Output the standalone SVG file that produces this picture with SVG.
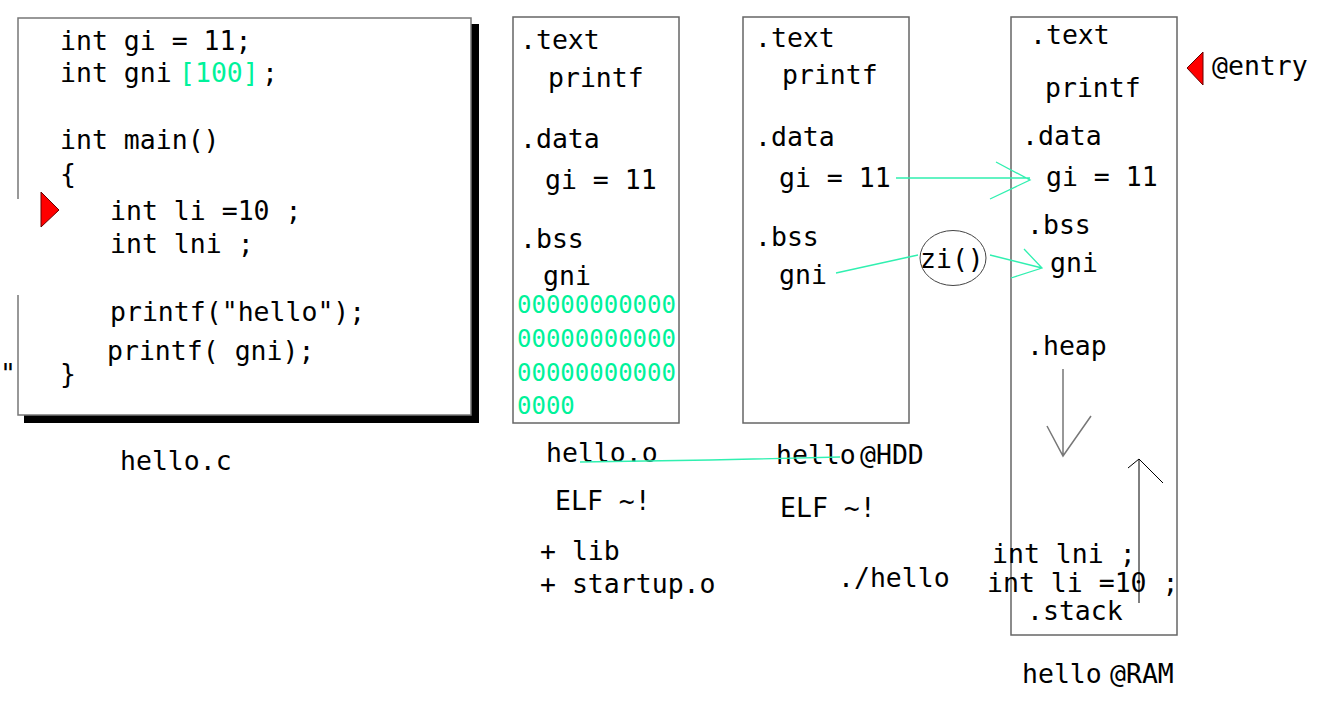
<svg xmlns="http://www.w3.org/2000/svg" width="1325" height="708" viewBox="0 0 1325 708">
<style>
text{font-family:"DejaVu Sans Mono","Liberation Mono",monospace;font-size:26.5px;fill:#000}
.g{fill:#00f29a}
.z{font-size:24px;fill:#00f29a}
.box{fill:#fff;stroke:#666;stroke-width:1.5}
.cg{stroke:#30f0b0;stroke-width:1.3;fill:none}
.tri{fill:#f00;stroke:#600;stroke-width:1}
</style>
<rect width="1325" height="708" fill="#fff"/>
<g id="source">
<rect x="24" y="24" width="455" height="399" fill="#000"/>
<rect x="18" y="18" width="453" height="397" fill="#fff"/>
<path d="M18,199 V18 H471 V415 H18 V295" fill="none" stroke="#777" stroke-width="1.5"/>
<polygon class="tri" points="41,192 59,210 41,227"/>
<text x="0" y="383">"</text>
<text x="60" y="50">int gi = 11;</text>
<text x="60" y="82">int gni</text>
<text class="g" x="179" y="82">[100]</text>
<text x="262" y="82">;</text>
<text x="60" y="149">int main()</text>
<text x="60" y="183">{</text>
<text x="110" y="220">int li =10 ;</text>
<text x="110" y="253">int lni ;</text>
<text x="110" y="321">printf("hello");</text>
<text x="107" y="360">printf( gni);</text>
<text x="60" y="383">}</text>
<text x="120" y="470">hello.c</text>
</g>
<g id="object">
<rect class="box" x="513" y="17" width="166" height="406"/>
<text x="520" y="49">.text</text>
<text x="548" y="87">printf</text>
<text x="520" y="148">.data</text>
<text x="545" y="189">gi = 11</text>
<text x="520" y="248">.bss</text>
<text x="543" y="285">gni</text>
<text class="z" x="517" y="313">00000000000</text>
<text class="z" x="517" y="347">00000000000</text>
<text class="z" x="517" y="381">00000000000</text>
<text class="z" x="517" y="414">0000</text>
<text x="546" y="462">hello.o</text>
<text x="555" y="510">ELF ~!</text>
<text x="540" y="560">+ lib</text>
<text x="540" y="593">+ startup.o</text>
</g>
<g id="executable">
<rect class="box" x="743" y="17" width="166" height="406"/>
<text x="755" y="47">.text</text>
<text x="782" y="84">printf</text>
<text x="755" y="146">.data</text>
<text x="779" y="187">gi = 11</text>
<text x="755" y="246">.bss</text>
<text x="779" y="284">gni</text>
<text x="776" y="464">hello</text>
<text x="860" y="464">@HDD</text>
<text x="780" y="517">ELF ~!</text>
<text x="838" y="587">./hello</text>
</g>
<g id="zi">
<ellipse cx="953" cy="258" rx="33" ry="27.5" fill="none" stroke="#444" stroke-width="1"/>
<text x="920" y="268">zi()</text>
</g>
<g id="ram">
<rect class="box" x="1011" y="17" width="166" height="618"/>
<text x="1030" y="44">.text</text>
<text x="1045" y="97">printf</text>
<text x="1022" y="145">.data</text>
<text x="1046" y="186">gi = 11</text>
<text x="1027" y="234">.bss</text>
<text x="1050" y="272">gni</text>
<text x="1027" y="355">.heap</text>
<text x="992" y="563">int lni ;</text>
<text x="987" y="592">int li =10 ;</text>
<text x="1027" y="620">.stack</text>
<text x="1022" y="683">hello</text>
<text x="1110" y="683">@RAM</text>
</g>
<g id="entry">
<polygon class="tri" points="1187,68 1203,52 1203,85"/>
<text x="1212" y="75">@entry</text>
</g>
<g id="connectors">
<path class="cg" d="M896,178 H1030 M996,162 L1030,180 L990,199"/>
<path class="cg" d="M836,273 L918,255"/>
<path class="cg" d="M990,255 L1042,268 M1024,249 L1042,268 L1011,278"/>
<path class="cg" d="M580,462 L710,460 L840,457" stroke-width="1.6"/>
<path d="M1063,369 V456 M1047,426 L1063,456 L1091,416" fill="none" stroke="#777" stroke-width="1.5"/>
<path d="M1139,603 V459 M1128,468 L1139,459 L1163,483" fill="none" stroke="#000" stroke-width="1"/>
</g>
</svg>
